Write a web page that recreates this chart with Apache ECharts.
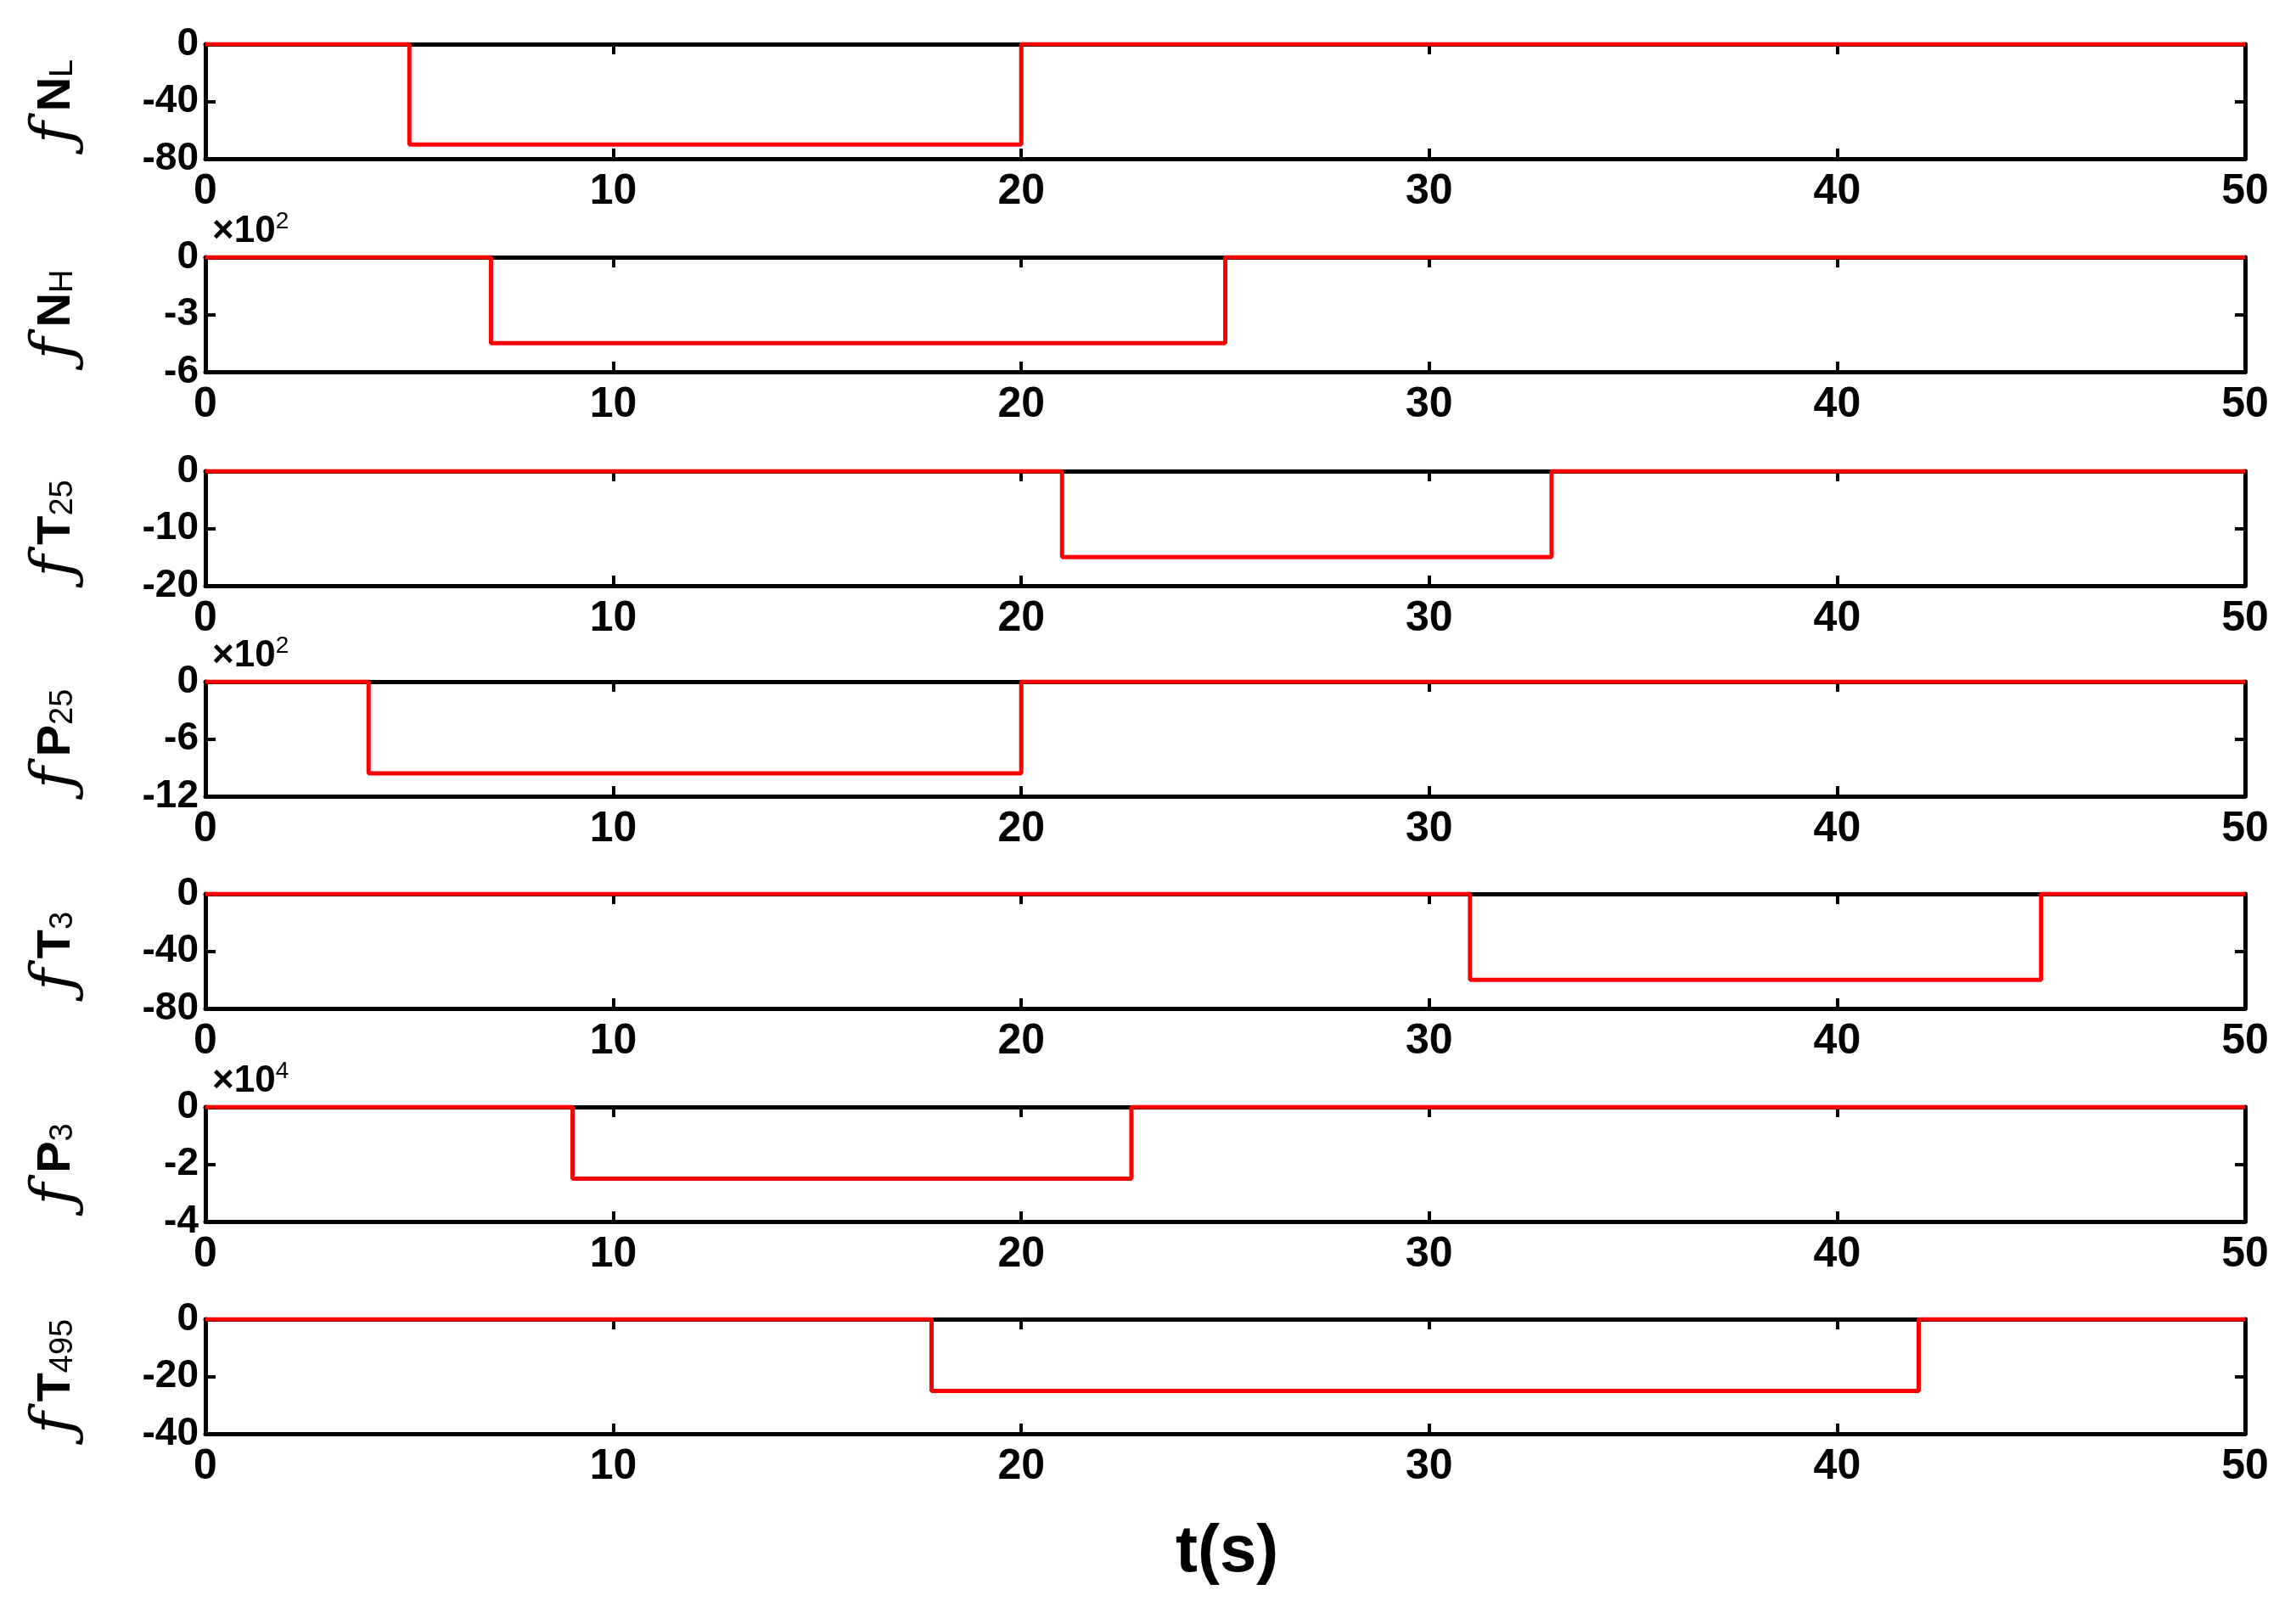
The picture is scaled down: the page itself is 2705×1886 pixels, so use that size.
<!DOCTYPE html>
<html><head><meta charset="utf-8">
<script src="https://cdn.jsdelivr.net/npm/echarts@6/dist/echarts.min.js"></script>
<style>html,body{margin:0;padding:0;background:#fff}#c{width:2705px;height:1886px}</style>
</head><body><div id="c"></div>
<script>
const names = ['NL','NH','T25','P25','T3','P3','T495'];
const mainTxt = ['N','N','T','P','T','P','T'];
const subTxt = ['L','H','25','25','3','3','495'];
const faultStart = [5, 7, 21, 4, 31, 9, 17.8];
const faultEnd = [20, 25, 33, 20, 45, 22.7, 42];
const faultLevel = [-70, -4.5, -15, -9.6, -60, -2.5, -25];
const yMin = [-80, -6, -20, -12, -80, -4, -40];
const yInterval = [40, 3, 10, 6, 40, 2, 20];
const scaleLbl = [null, '2', null, '2', null, '4', null];
const xTicks = [0, 10, 20, 30, 40, 50];

const FONT = '"Liberation Sans Narrow","Liberation Sans",Arial,sans-serif';
const L = 242, R = 60, H = 135;
const tops = [52, 303, 555, 803, 1053, 1304, 1554];
const grid = [], xAxis = [], yAxis = [], series = [], graphic = [];
names.forEach((n, i) => {
  grid.push({left: L, right: R, top: tops[i], height: H});
  const axLine = {show: true, onZero: false, lineStyle: {color: '#000', width: 5}};
  const tick = {show: true, inside: true, length: 12, lineStyle: {color: '#000', width: 4}};
  xAxis.push({gridIndex: i, type: 'value', min: 0, max: 50, interval: 10, position: 'bottom',
    axisLine: axLine, axisTick: tick, splitLine: {show: false},
    axisLabel: {fontFamily: FONT, fontWeight: 'bold', fontSize: 50, color: '#000', margin: 14}});
  xAxis.push({gridIndex: i, type: 'value', min: 0, max: 50, interval: 10, position: 'top',
    axisLine: axLine, axisTick: tick, splitLine: {show: false}, axisLabel: {show: false}});
  yAxis.push({gridIndex: i, type: 'value', min: yMin[i], max: 0, interval: yInterval[i], position: 'left',
    axisLine: axLine, axisTick: tick, splitLine: {show: false},
    axisLabel: {fontFamily: FONT, fontWeight: 'bold', fontSize: 46, color: '#000', margin: 8},
    name: '{f|ƒ}{m|' + mainTxt[i] + '}{s|' + subTxt[i] + '}', nameLocation: 'middle', nameRotate: 90, nameGap: 140,
    nameTextStyle: {rich: {
      f: {fontFamily: '"DejaVu Serif",serif', fontStyle: 'italic', fontSize: 70, color: '#000', padding: [0, 12, 0, 0]},
      m: {fontFamily: '"Liberation Sans",Arial', fontWeight: 'bold', fontSize: 56, color: '#000'},
      s: {fontFamily: '"Liberation Sans",Arial', fontSize: 38, color: '#000', padding: [16, 0, 0, 0]}
    }}});
  yAxis.push({gridIndex: i, type: 'value', min: yMin[i], max: 0, interval: yInterval[i], position: 'right',
    axisLine: axLine, axisTick: tick, splitLine: {show: false}, axisLabel: {show: false}});
  const data = [[0, 0], [faultStart[i], 0], [faultStart[i], faultLevel[i]], [faultEnd[i], faultLevel[i]], [faultEnd[i], 0], [50, 0]];
  series.push({type: 'line', xAxisIndex: 2 * i, yAxisIndex: 2 * i, data: data, symbol: 'none', z: 5,
    lineStyle: {color: '#ff0000', width: 5}});
  if (scaleLbl[i]) {
    graphic.push({type: 'text', left: 250, top: tops[i] - 56, style: {
      text: '{a|×10}{b|' + scaleLbl[i] + '}',
      rich: {a: {fontFamily: FONT, fontWeight: 'bold', fontSize: 44, fill: '#000'},
             b: {fontFamily: FONT, fontSize: 28, fill: '#000', padding: [0, 0, 24, 0]}}}});
  }
});
graphic.push({type: 'text', left: 1385, top: 1790, style: {text: 't(s)', fontFamily: '"Liberation Sans",Arial', fontWeight: 'bold', fontSize: 78, fill: '#000'}});
const chart = echarts.init(document.getElementById('c'));
chart.setOption({animation: false, backgroundColor: '#fff', grid, xAxis, yAxis, series, graphic});
</script></body></html>
